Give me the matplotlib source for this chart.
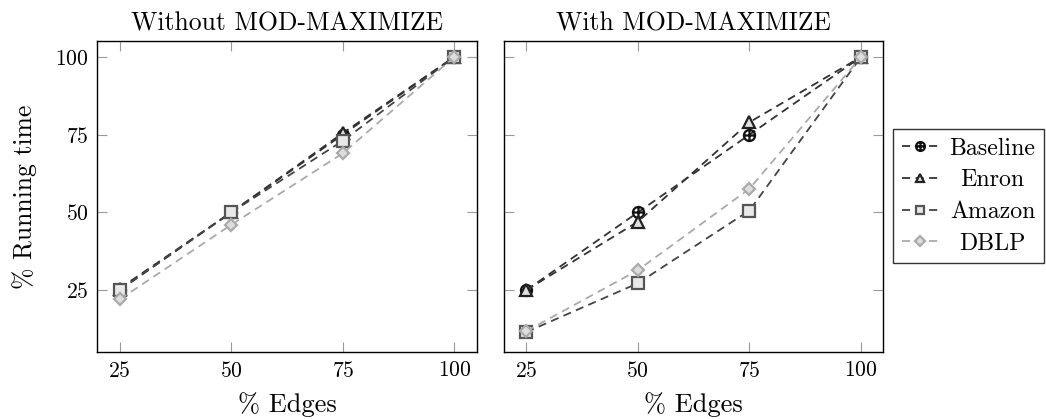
import matplotlib
matplotlib.use("Agg")
import matplotlib.pyplot as plt
import numpy as np
from matplotlib.path import Path

# ---- data ----
edges = [25, 50, 75, 100]
series_names = ["Baseline", "Enron", "Amazon", "DBLP"]

baseline_without = [25, 50, 75, 100]
enron_without = [25.5, 50, 75.5, 100]
amazon_without = [25, 50, 73, 100]
dblp_without = [22, 46, 69, 100]

baseline_with = [25, 50, 75, 100]
enron_with = [25, 47, 79, 100]
amazon_with = [11.5, 27.2, 50.6, 100]
dblp_with = [11.8, 31.4, 57.6, 100]

titles = ["Without MOD-MAXIMIZE", "With MOD-MAXIMIZE"]
xticks = [25, 50, 75, 100]
yticks = [25, 50, 75, 100]

plt.rcParams['font.family'] = ['cmr10', 'DejaVu Serif']
plt.rcParams['mathtext.fontset'] = 'cm'
plt.rcParams['axes.formatter.use_mathtext'] = True

# circle-plus marker
circ = Path.unit_circle()
cross = Path([(-1, 0), (1, 0), (0, -1), (0, 1)],
             [Path.MOVETO, Path.LINETO, Path.MOVETO, Path.LINETO])
oplus = Path.make_compound_path(circ, cross)

styles = [
    dict(color='#333333', marker=oplus, mec='#111111', mfc='none', ms=8, mew=1.6),
    dict(color='#333333', marker='^', mec='#222222', mfc='#e0e0e0', ms=8, mew=1.6),
    dict(color='#444444', marker='s', mec='#555555', mfc='#e8e8e8', ms=8, mew=1.6),
    dict(color='#aaaaaa', marker='D', mec='#aaaaaa', mfc='#dddddd', ms=6, mew=1.6),
]

fig = plt.figure(figsize=(10.46, 4.19), dpi=100)
ax1 = fig.add_axes([0.0930, 0.1592, 0.3627, 0.7420])
ax2 = fig.add_axes([0.4818, 0.1592, 0.3627, 0.7420])

data = [
    [baseline_without, enron_without, amazon_without, dblp_without],
    [baseline_with, enron_with, amazon_with, dblp_with],
]

handles = []
for ax, series, title in zip([ax1, ax2], data, titles):
    for i, (vals, st) in enumerate(zip(series, styles)):
        h, = ax.plot(edges, vals, color=st['color'], linestyle=(0, (4.5, 3)), lw=1.3,
                     marker=st['marker'], markeredgecolor=st['mec'],
                     markerfacecolor=st['mfc'], markersize=st['ms'],
                     markeredgewidth=st['mew'], label=series_names[i], zorder=3 + i)
        if ax is ax1:
            handles.append(h)
    ax.set_xlim(20, 105)
    ax.set_ylim(5, 105)
    ax.set_xticks(xticks)
    ax.set_yticks(yticks)
    ax.tick_params(direction='in', length=7.5, width=0.8, color='#999999',
                   top=True, right=True, labelsize=15.5, pad=6)
    for s in ax.spines.values():
        s.set_linewidth(1.0)
    ax.set_title(title, fontsize=18.5, pad=8)
    ax.set_xlabel('% Edges', fontsize=19, labelpad=8)

ax2.tick_params(labelleft=False)
ax1.set_ylabel('% Running time', fontsize=18.5, labelpad=13)

leg = fig.legend(handles=handles, loc='upper left', bbox_to_anchor=(0.854, 0.692),
                 bbox_transform=fig.transFigure, fontsize=17.2, frameon=True,
                 fancybox=False, edgecolor='black', handlelength=1.55,
                 handletextpad=0.45, borderpad=0.35, labelspacing=0.4,
                 borderaxespad=0, markerscale=0.8)
leg.get_frame().set_linewidth(1.0)

# centre the legend labels within their column, as in the reference
fig.canvas.draw()
renderer = fig.canvas.get_renderer()
texts = leg.get_texts()
widths = [t.get_window_extent(renderer).width for t in texts]
maxw = max(widths)
for t, w in zip(texts, widths):
    t.set_position(((maxw - w) / 2.0, 0))

fig.savefig('out.png', dpi=100)
